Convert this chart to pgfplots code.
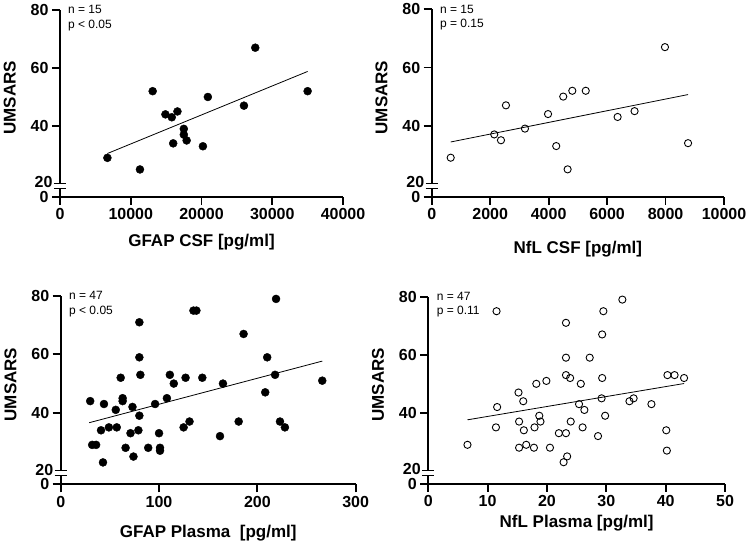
\documentclass[border=0pt]{standalone}
\usepackage{fontspec}
\setmainfont{Liberation Sans}
\usepackage{pgfplots}
\pgfplotsset{compat=1.18}

% common look of the four panels (broken y axis: 0 sits at 15.5)
\pgfplotsset{
  panel/.style={
    scale only axis, anchor=south west, clip=false,
    axis lines=left,
    axis line style={-, line width=1.8pt},
    every tick/.style={black, line width=1.8pt},
    tick align=outside, major tick length=8pt,
    scaled x ticks=false, scaled y ticks=false,
    ymin=15.5, ymax=80,
    ytick={15.5,40,60,80}, yticklabels={0,40,60,80},
    extra y ticks={20}, extra y tick labels={20},
    extra y tick style={major tick length=0pt,
      tick label style={xshift=-4pt, yshift=1.5pt}},
    tick label style={font=\fontsize{16}{19}\selectfont\bfseries},
    label style={font=\fontsize{17}{20}\selectfont\bfseries},
    ylabel={UMSARS},
    ylabel style={at={(ticklabel cs:0.53)}},
  },
  filled/.style={only marks, mark=*, mark size=4pt, black},
  open/.style={only marks, mark=o, mark size=3.6pt, black, mark options={line width=0.9pt, fill=white}},
  fit/.style={black, line width=0.8pt, no marks},
}
\newcommand{\brk}{%
  \fill[white] ([xshift=-3pt]axis cs:0,18.5) rectangle ([xshift=3pt]axis cs:0,20.2);
  \draw[line width=1.1pt] ([xshift=-6pt]axis cs:0,20.2) -- ([xshift=6pt]axis cs:0,20.2);
  \draw[line width=1.1pt] ([xshift=-6pt]axis cs:0,18.5) -- ([xshift=6pt]axis cs:0,18.5);
}
\newcommand{\stats}[2]{%
  \node[anchor=north west, align=left, inner sep=0pt,
        font=\fontsize{12}{14.5}\selectfont] at (rel axis cs:0.028,1.025) {#1\\#2};
}

\begin{document}
\begin{tikzpicture}
\path[use as bounding box] (0pt,0pt) rectangle (749pt,545pt);

% GFAP CSF
\begin{axis}[panel, at={(60pt,348pt)}, width=283pt, height=187pt,
  xmin=0, xmax=40000, xtick={0,10000,20000,30000,40000},
  xticklabels={0,10000,20000,30000,40000},
  xlabel={GFAP CSF [pg/ml]}, xlabel style={yshift=-7pt}]
\addplot[filled] coordinates {
  (6700,29) (11300,25) (13100,52) (14900,44) (15800,43) (16600,45)
  (16000,34) (17500,39) (17500,37) (17900,35) (20200,33) (20900,50)
  (26000,47) (27600,67) (35000,52)};
\addplot[fit] coordinates {(6700,30.5) (35000,58.8)};
\brk
\stats{n = 15}{p < 0.05}
\end{axis}

% NfL CSF
\begin{axis}[panel, at={(431.7pt,348pt)}, width=292.3pt, height=187.7pt,
  xmin=0, xmax=10000, xtick={0,2000,4000,6000,8000,10000},
  xticklabels={0,2000,4000,6000,8000,10000},
  xlabel={NfL CSF [pg/ml]}, xlabel style={yshift=-14pt}]
\addplot[open] coordinates {
  (650,29) (2140,37) (2370,35) (2540,47) (3190,39) (3980,44)
  (4260,33) (4500,50) (4650,25) (4810,52) (5270,52) (6360,43)
  (6940,45) (7980,67) (8770,34)};
\addplot[fit] coordinates {(650,34.4) (8770,50.7)};
\brk
\stats{n = 15}{p = 0.15}
\end{axis}

% GFAP Plasma
\begin{axis}[panel, at={(60.7pt,60.7pt)}, width=295pt, height=188.3pt,
  xmin=0, xmax=300, xtick={0,100,200,300},
  xticklabels={0,100,200,300},
  xlabel={GFAP Plasma\ \ [pg/ml]}, xlabel style={yshift=-11pt}]
\addplot[filled] coordinates {
  (30,44) (32,29) (36,29) (41,34) (44,43) (43,23) (49,35) (57,35)
  (56,41) (61,52) (63,45) (63,44) (66,28) (73,42) (71,33) (74,25)
  (79,34) (80,71) (80,59) (81,53) (80,39) (89,28) (96,43) (100,33)
  (101,28) (101,27) (108,45) (111,53) (115,50) (125,35) (131,37)
  (127,52) (135,75) (138,75) (144,52) (219,79) (186,67) (210,59)
  (218,53) (266,51) (165,50) (208,47) (181,37) (223,37) (228,35)
  (162,32)};
\addplot[fit] coordinates {(29,36.6) (266,57.7)};
\brk
\stats{n = 47}{p < 0.05}
\end{axis}

% NfL Plasma
\begin{axis}[panel, at={(428.3pt,61pt)}, width=296.7pt, height=187.3pt,
  xmin=0, xmax=50, xtick={0,10,20,30,40,50},
  xticklabels={0,10,20,30,40,50},
  xlabel={NfL Plasma [pg/ml]}, xlabel style={yshift=-1pt}]
\addplot[open] coordinates {
  (6.6,29) (11.5,75) (11.6,42) (11.4,35) (15.2,47) (15.3,37) (15.3,28)
  (16.0,44) (16.1,34) (16.5,29) (17.8,28) (17.9,35) (18.2,50) (18.7,39)
  (18.9,37) (19.9,51) (20.5,28) (22.0,33) (22.8,23) (23.4,25) (23.2,33)
  (23.2,71) (23.2,59) (23.2,53) (23.9,52) (24.0,37) (25.7,50) (25.4,43)
  (26.3,41) (26.0,35) (27.2,59) (28.6,32) (29.2,45) (29.3,52) (29.3,67)
  (29.5,75) (29.8,39) (32.7,79) (33.9,44) (34.6,45) (37.6,43) (40.1,34)
  (40.2,27) (40.3,53) (41.5,53) (43.1,52)};
\addplot[fit] coordinates {(6.6,37.6) (43.1,50.1)};
\brk
\stats{n = 47}{p = 0.11}
\end{axis}
\end{tikzpicture}
\end{document}
